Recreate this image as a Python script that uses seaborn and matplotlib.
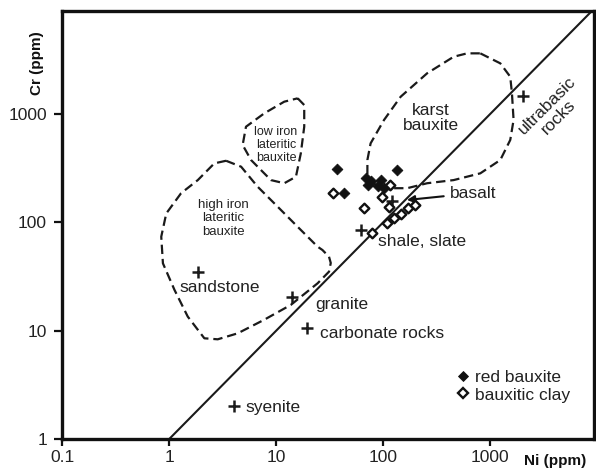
import numpy as np
import pandas as pd
import matplotlib
matplotlib.use("Agg")
import matplotlib.pyplot as plt
from matplotlib.lines import Line2D
import seaborn as sns

# ---------------- data ----------------
red_ni = [36.8, 136, 68.7, 76.4, 71.7, 94.8, 88.9, 101, 43.1]
red_cr = [311, 308, 257, 239, 221, 249, 215, 208, 186]

clay_ni = [34.3, 117, 98.3, 113, 66.2, 79.3, 109.4, 126, 145.6, 170, 197]
clay_cr = [186, 223, 171, 139, 135, 79.3, 98, 109, 119, 135, 145]

rock_names = ["ultrabasic rocks", "basalt", "shale, slate", "sandstone",
              "granite", "carbonate rocks", "syenite"]
rock_ni = [2013, 122, 61.7, 1.85, 14.2, 19.6, 4.0]
rock_cr = [1479, 157, 85.1, 34.6, 20.6, 10.7, 2.0]

# 1:1 reference line
line_ni = [1, 10000]
line_cr = [1, 10000]

# field outlines (Ni, Cr)
high_iron_ni = [3.4, 4.7, 6.7, 10.3, 15.9, 24.4, 27.1, 31.2, 32.4, 31.2, 24.4, 13.7,
                7.7, 4.37, 2.84, 2.13, 1.49, 1.12, 0.873, 0.842, 0.938, 1.29, 1.85, 2.64, 3.4]
high_iron_cr = [371, 327, 214, 140, 91, 59.7, 55.6, 48.2, 42.2, 35.1, 27.4, 17.3,
                12.6, 9.46, 8.33, 8.51, 13.5, 23.8, 41.9, 73.8, 121, 186, 246, 351, 371]

low_iron_ni = [15.9, 18.3, 18.3, 17.0, 15.3, 11.9, 8.93, 5.82, 4.86, 5.22, 7.74, 11.9, 15.9]
low_iron_cr = [1400, 1213, 765, 434, 264, 230, 246, 377, 519, 765, 1017, 1303, 1400]

karst_ni = [811, 1247, 1545, 1603, 1660, 1545, 1247, 811, 457, 258, 168, 126, 88.3,
            71.3, 71.3, 76.4, 102, 146, 258, 457, 610, 811]
karst_cr = [3641, 2944, 2215, 1556, 883, 577, 377, 284, 246, 230, 207, 207, 214,
            264, 377, 537, 883, 1448, 2382, 3388, 3641, 3641]

x_ticks = [0.1, 1, 10, 100, 1000]
x_tick_labels = ["0.1", "1", "10", "100", "1000"]
y_ticks = [1, 10, 100, 1000]
y_tick_labels = ["1", "10", "100", "1000"]

# ---------------- style ----------------
sns.set_style("ticks")
plt.rcParams["font.family"] = ["Liberation Sans", "DejaVu Sans"]

fig = plt.figure(figsize=(5.96, 4.74), dpi=100)
ax = fig.add_axes([62.3 / 596, 35 / 474, 531.7 / 596, 428 / 474])
ax.set_xscale("log")
ax.set_yscale("log")
ax.set_xlim(0.1, 9380)
ax.set_ylim(1, 8960)

# reference line
ax.plot(line_ni, line_cr, color="#1a1a1a", lw=1.5, zorder=2)

# field outlines
dash = (0, (4.2, 2.2))
for nx, cy in [(high_iron_ni, high_iron_cr), (low_iron_ni, low_iron_cr), (karst_ni, karst_cr)]:
    ax.plot(nx, cy, color="#1a1a1a", lw=1.6, linestyle=dash,
            solid_joinstyle="round", dash_joinstyle="round", zorder=2)

# samples
red_df = pd.DataFrame({"Ni": red_ni, "Cr": red_cr})
clay_df = pd.DataFrame({"Ni": clay_ni, "Cr": clay_cr})
rock_df = pd.DataFrame({"Ni": rock_ni, "Cr": rock_cr, "rock": rock_names})

sns.scatterplot(data=rock_df, x="Ni", y="Cr", marker="+", s=64, color="#1a1a1a",
                linewidth=1.8, ax=ax, zorder=4, legend=False)
sns.scatterplot(data=clay_df, x="Ni", y="Cr", marker="D", s=24, facecolor="white",
                edgecolor="#111111", linewidth=1.7, ax=ax, zorder=5, legend=False)
sns.scatterplot(data=red_df, x="Ni", y="Cr", marker="D", s=30, color="#111111",
                edgecolor="#111111", linewidth=0.6, ax=ax, zorder=6, legend=False)

# labels
tc = "#222222"
fs = 12.5
ax.text(1.24, 25.3, "sandstone", fontsize=fs, ha="left", va="center", color=tc)
ax.text(23.0, 17.3, "granite", fontsize=fs, ha="left", va="center", color=tc)
ax.text(25.7, 9.33, "carbonate rocks", fontsize=fs, ha="left", va="center", color=tc)
ax.text(88.9, 66.3, "shale, slate", fontsize=fs, ha="left", va="center", color=tc)
ax.text(5.11, 1.97, "syenite", fontsize=fs, ha="left", va="center", color=tc)
ax.text(281, 920, "karst\nbauxite", fontsize=fs, ha="center", va="center",
        linespacing=1.05, color=tc)
ax.text(3890, 1069, "ultrabasic\nrocks", fontsize=fs, ha="center", va="center",
        rotation=45, rotation_mode="anchor", linespacing=1.1, color=tc)
ax.text(9.95, 518, "low iron\nlateritic\nbauxite", fontsize=9, ha="center", va="center",
        linespacing=1.08, color=tc)
ax.text(3.21, 109, "high iron\nlateritic\nbauxite", fontsize=9.5, ha="center", va="center",
        linespacing=1.15, color=tc)
ax.annotate("basalt", xy=(167, 161), xytext=(420, 186), fontsize=fs, ha="left",
            va="center", color=tc,
            arrowprops=dict(arrowstyle="-|>", color="#111111", lw=1.5,
                            shrinkA=2, shrinkB=0, mutation_scale=11))

# axis labels
ax.text(-0.047, 0.879, "Cr (ppm)", transform=ax.transAxes, rotation=90,
        ha="center", va="center", fontsize=11, fontweight="bold", color="#111111")
ax.text(0.927, -0.051, "Ni (ppm)", transform=ax.transAxes,
        ha="center", va="center", fontsize=11, fontweight="bold", color="#111111")
ax.set_xlabel("")
ax.set_ylabel("")

# ticks
ax.set_xticks(x_ticks)
ax.set_xticklabels(x_tick_labels)
ax.set_yticks(y_ticks)
ax.set_yticklabels(y_tick_labels)
ax.minorticks_off()
ax.tick_params(axis="x", direction="out", length=5, width=1.6, pad=3,
               labelsize=12.5, colors="#111111", labelcolor="#222222")
ax.tick_params(axis="y", direction="out", length=6, width=1.6, pad=5,
               labelsize=12.5, colors="#111111", labelcolor="#222222")
for sp in ax.spines.values():
    sp.set_linewidth(2.4)
    sp.set_color("#111111")
    sp.set_visible(True)

# legend
handles = [
    Line2D([], [], marker="D", linestyle="none", markersize=5.4, markerfacecolor="#111111",
           markeredgecolor="#111111", markeredgewidth=0.6),
    Line2D([], [], marker="D", linestyle="none", markersize=4.9, markerfacecolor="white",
           markeredgecolor="#111111", markeredgewidth=1.7),
]
leg = ax.legend(handles, ["red bauxite", "bauxitic clay"], loc="center left",
                bbox_to_anchor=(0.742, 0.123), frameon=False, fontsize=12.5,
                handlelength=0.7, handletextpad=0.35, borderpad=0, borderaxespad=0,
                labelspacing=0.12)
for t in leg.get_texts():
    t.set_color(tc)

fig.savefig("out.png", dpi=100)
